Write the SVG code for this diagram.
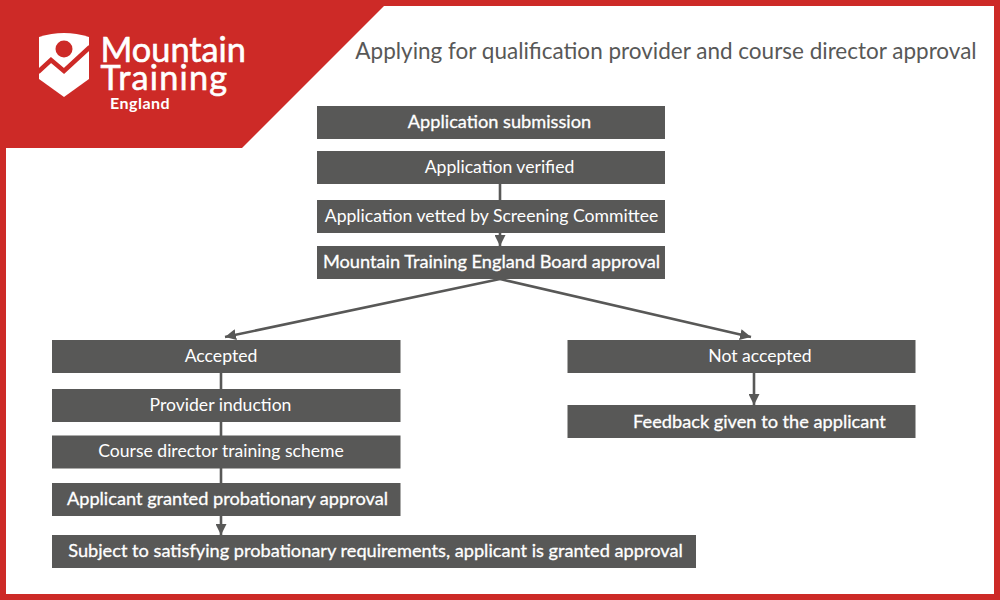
<svg xmlns="http://www.w3.org/2000/svg" width="1000" height="600" viewBox="0 0 1000 600">
<style>
.box{fill:#585857}
.t{font-family:Lato,"Liberation Sans",sans-serif;font-size:17.6px;fill:#fff;text-anchor:middle}
.b{font-size:18.2px;stroke:#fff;stroke-width:.3px}
.c{stroke:#585857;stroke-width:2.6;fill:none}
.logo{font-family:Lato,"Noto Sans",sans-serif;fill:#fff;stroke:#fff}
</style>
<defs><marker id="arrow" markerUnits="userSpaceOnUse" markerWidth="12" markerHeight="11" refX="11" refY="5.500" orient="auto"><path d="M0 0L11 5.500L0 11Z" fill="#585857"/></marker></defs>
<rect width="1000" height="600" fill="#cd2a27"/>
<rect x="6" y="6" width="988" height="588" fill="#fff"/>
<g id="header">
<path d="M0 0H390L242 148H0Z" fill="#cd2a27"/>
<path d="M39 37Q64 29 89 37V79L64 97L39 79Z" fill="#fff"/>
<circle cx="64" cy="49" r="8.500" fill="#cd2a27"/>
<path d="M38 72L51 60L64 71L90 47" fill="none" stroke="#cd2a27" stroke-width="4.500"/>
<text class="logo" x="100.500" y="62" font-size="34.300" stroke-width=".6">Mountain</text>
<text class="logo" x="100.500" y="90" font-size="34.300" stroke-width=".6" letter-spacing="1.200">Training</text>
<text class="logo" x="110" y="108.500" font-size="16" font-weight="700" stroke-width="0" letter-spacing=".5">England</text>
<text x="666" y="59" text-anchor="middle" font-family="Lato,'Liberation Sans',sans-serif" font-size="22.500" fill="#585857">Applying for qualification provider and course director approval</text>
</g>
<g id="connectors">
<path class="c" d="M500 184V246" marker-end="url(#arrow)"/>
<path class="c" d="M500 279L225 337" marker-end="url(#arrow)"/>
<path class="c" d="M500 279L751 337" marker-end="url(#arrow)"/>
<path class="c" d="M221 373V535" marker-end="url(#arrow)"/>
<path class="c" d="M754 373V405" marker-end="url(#arrow)"/>
</g>
<g id="n1"><rect class="box" x="317" y="106" width="348" height="33"/><text class="t b" x="499.500" y="127.500">Application submission</text></g>
<g id="n2"><rect class="box" x="317" y="151" width="348" height="33"/><text class="t" x="499.500" y="172.500">Application verified</text></g>
<g id="n3"><rect class="box" x="317" y="200" width="348" height="33"/><text class="t" x="491.500" y="221.500">Application vetted by Screening Committee</text></g>
<g id="n4"><rect class="box" x="317" y="246" width="348" height="33"/><text class="t b" x="491.500" y="267.500">Mountain Training England Board approval</text></g>
<g id="n5"><rect class="box" x="52" y="340" width="348.500" height="33"/><text class="t" x="221" y="361.500">Accepted</text></g>
<g id="n6"><rect class="box" x="52" y="389" width="348.500" height="33"/><text class="t" x="220.500" y="411">Provider induction</text></g>
<g id="n7"><rect class="box" x="52" y="435.500" width="348.500" height="33"/><text class="t" x="221" y="456.500">Course director training scheme</text></g>
<g id="n8"><rect class="box" x="52" y="483" width="348.500" height="33"/><text class="t b" x="227.500" y="504.500">Applicant granted probationary approval</text></g>
<g id="n9"><rect class="box" x="52" y="535" width="644" height="33"/><text class="t b" x="375.500" y="556.500">Subject to satisfying probationary requirements, applicant is granted approval</text></g>
<g id="n10"><rect class="box" x="567.500" y="340" width="348" height="33"/><text class="t" x="760" y="361.500">Not accepted</text></g>
<g id="n11"><rect class="box" x="567.500" y="405" width="348" height="33"/><text class="t b" x="759.500" y="428">Feedback given to the applicant</text></g>
</svg>
